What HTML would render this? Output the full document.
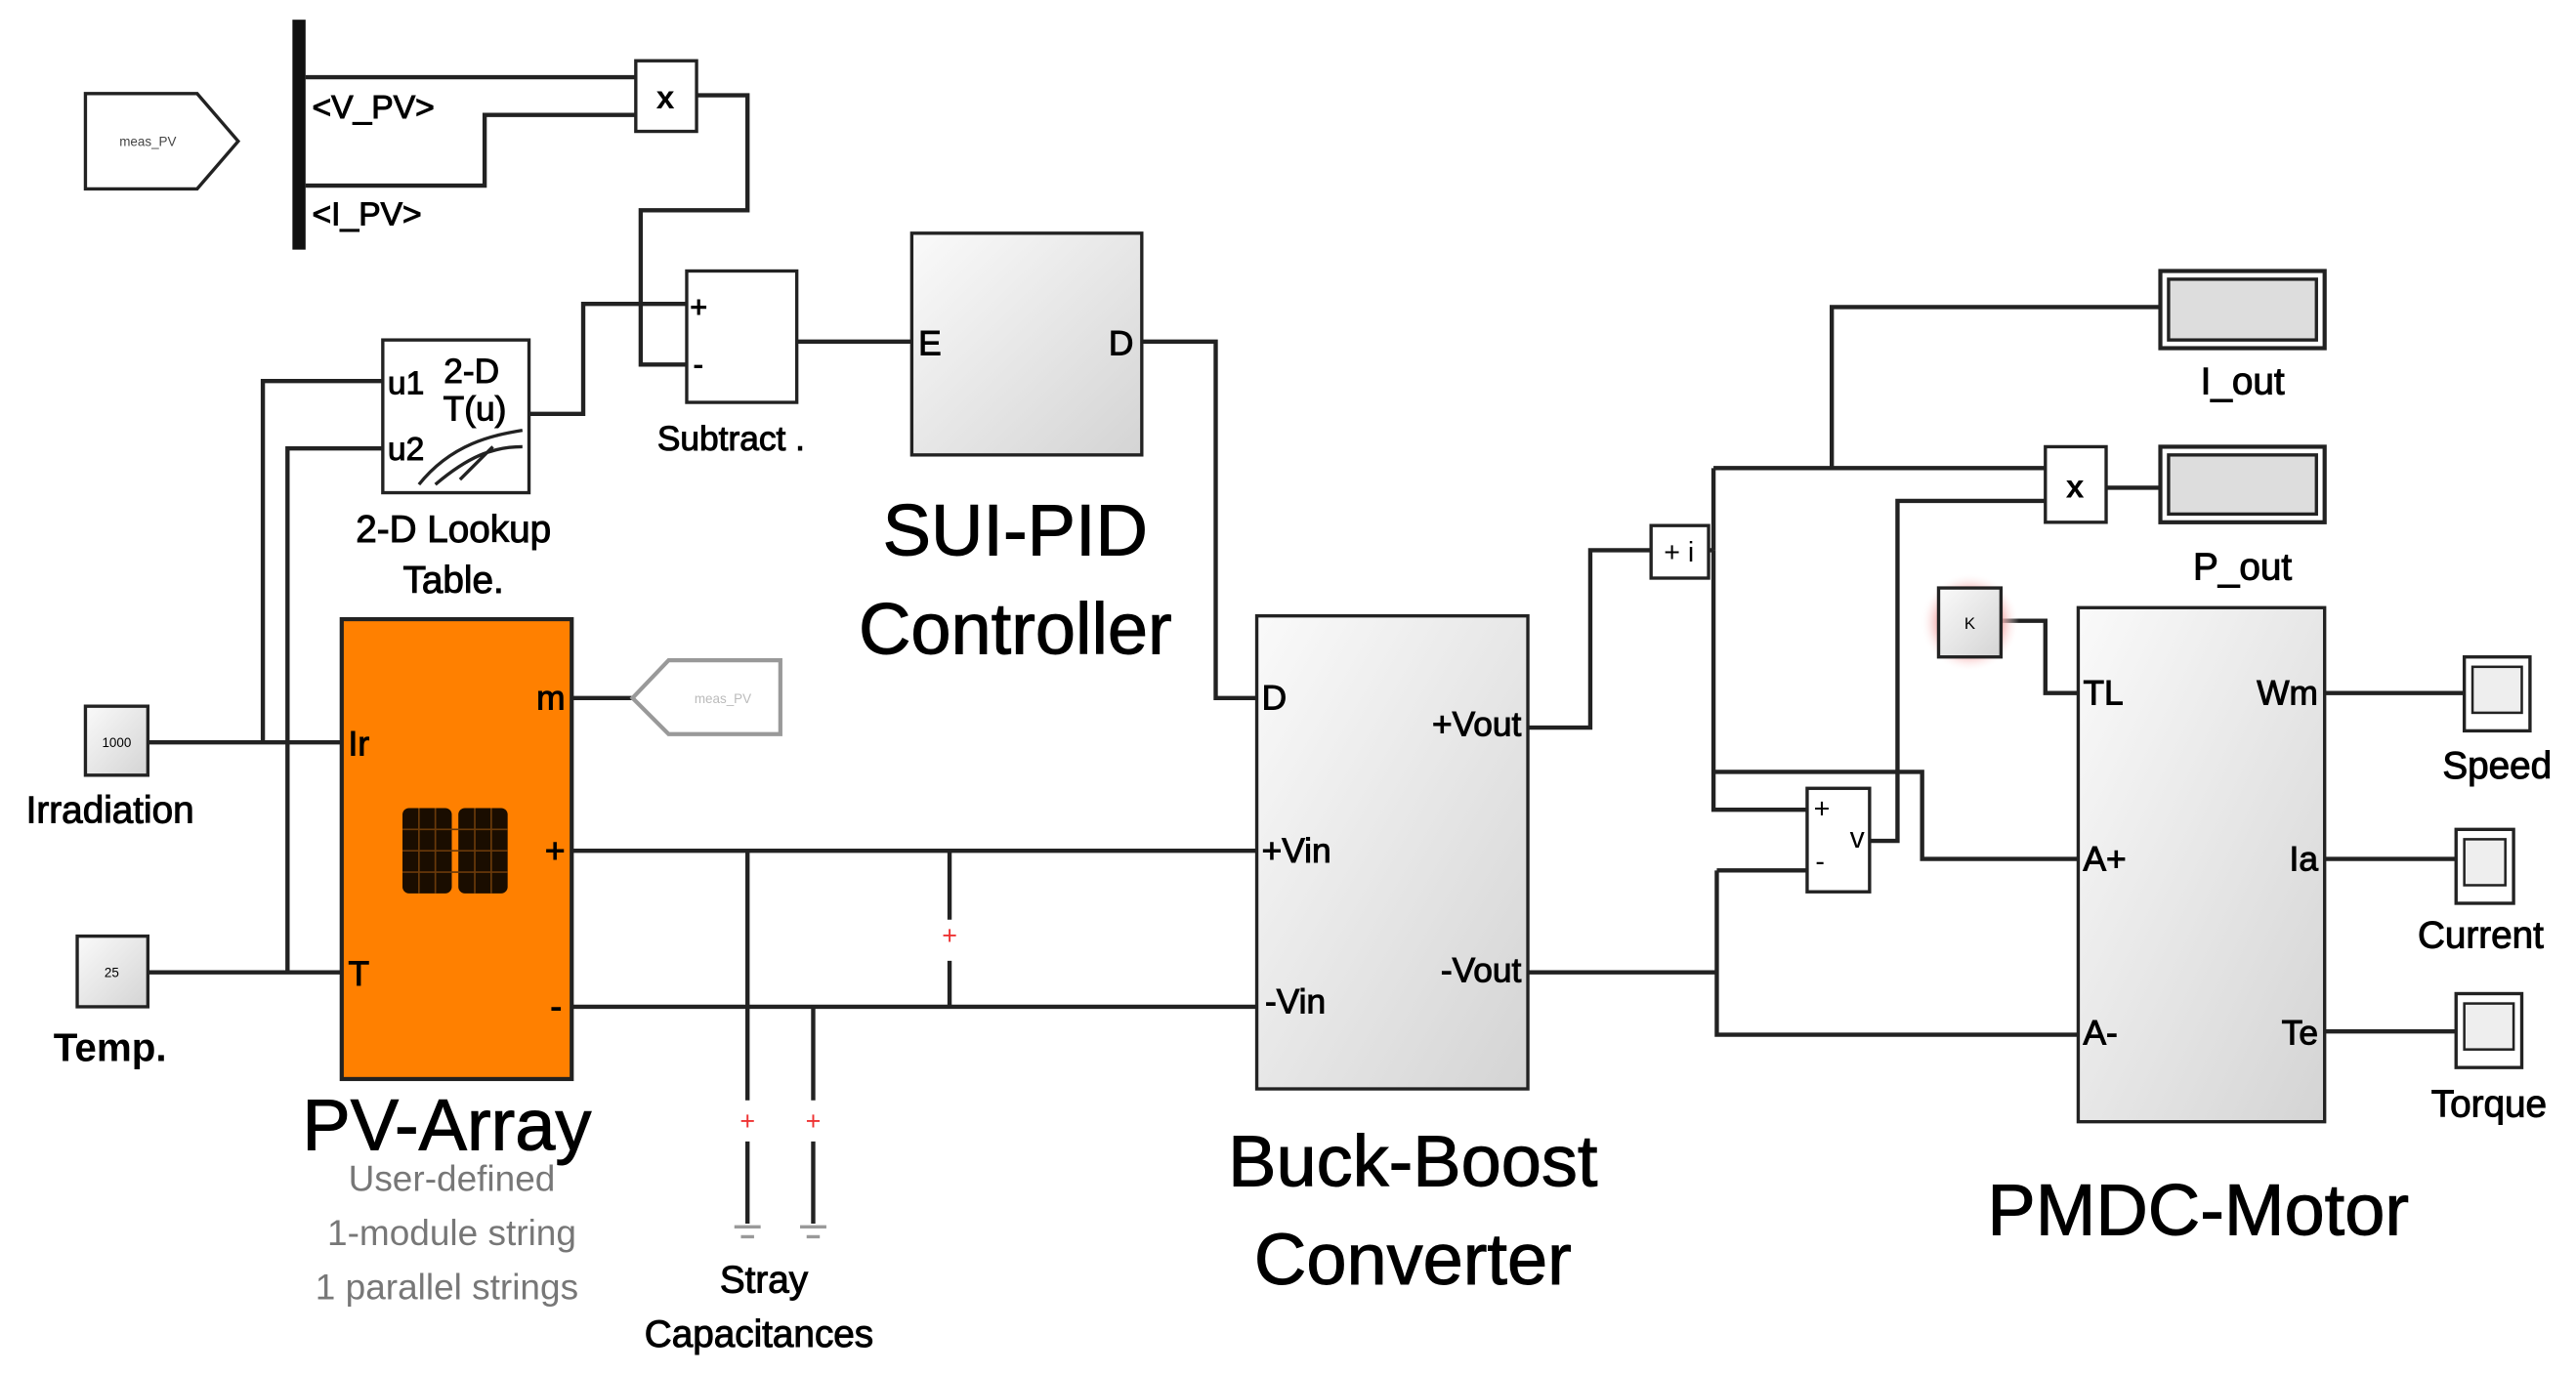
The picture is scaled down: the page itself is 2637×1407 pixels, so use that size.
<!DOCTYPE html>
<html><head><meta charset="utf-8"><style>
html,body{margin:0;padding:0;background:#fff;}
svg{display:block;}
text{font-family:"Liberation Sans Narrow","Liberation Sans",sans-serif;}
.t{stroke:#000;stroke-width:0.6;}
</style></head><body>
<svg width="2637" height="1407" viewBox="0 0 1568 836.6" preserveAspectRatio="none" xmlns="http://www.w3.org/2000/svg">
<defs>
<linearGradient id="g" x1="0" y1="0" x2="1" y2="1"><stop offset="0" stop-color="#fafafa"/><stop offset="1" stop-color="#d4d4d4"/></linearGradient>
<radialGradient id="rg"><stop offset="0.6" stop-color="#f3a0a0"/><stop offset="1" stop-color="#fff" stop-opacity="0"/></radialGradient>
</defs>
<g fill="none" stroke="#222" stroke-width="2.6">
<path d="M186 47H387M186 113H295V70H387"/>
<path d="M424 58H455V128H390V222H418"/>
<path d="M322 252H355V185H418"/>
<path d="M485 208H555"/>
<path d="M695 208H740V425H765"/>
<path d="M90 452H208M160 452V232H233M90 592H208M175 592V273H233"/>
<path d="M348 425H385"/>
<path d="M348 518H765M348 613H765"/>
<path d="M455 518V670M495 613V670M578 518V560M578 585V613M455 695V745M495 695V745"/>
<path d="M930 443H968V335H1005"/>
<path d="M1043 285H1245M1043 335V285M1040 335H1043M1115 285V187H1315"/>
<path d="M1043 335V493H1100M1043 470H1170V523H1265"/>
<path d="M930 592H1045M1045 530V630H1265M1045 530H1100"/>
<path d="M1138 512H1155V305H1245"/>
<path d="M1282 297H1315"/>
<path d="M1218 378H1245V422H1265"/>
<path d="M1415 422H1500M1415 523H1495M1415 628H1495"/>
</g>
<rect x="178" y="12" width="8" height="140" fill="#111"/>
<path d="M52 57H120L145 86L120 115H52Z" fill="#fff" stroke="#222" stroke-width="2"/>
<text x="90" y="89" font-size="8" text-anchor="middle" fill="#444">meas_PV</text>
<g class="t">
<text x="190" y="72" font-size="20">&lt;V_PV&gt;</text>
<text x="190" y="137" font-size="20">&lt;I_PV&gt;</text>
</g>
<rect x="387" y="37" width="37" height="43" fill="#fff" stroke="#222" stroke-width="2"/>
<text x="405" y="66" font-size="20" text-anchor="middle" font-weight="bold">x</text>
<rect x="418" y="165" width="67" height="80" fill="#fff" stroke="#222" stroke-width="2"/>
<g class="t">
<text x="420" y="193" font-size="18">+</text><text x="422" y="228" font-size="18">-</text>
<text x="445" y="274" font-size="21" text-anchor="middle">Subtract .</text>
</g>
<rect x="233" y="207" width="89" height="93" fill="#fff" stroke="#222" stroke-width="2"/>
<g class="t">
<text x="236" y="240" font-size="20">u1</text><text x="236" y="280" font-size="20">u2</text>
<text x="287" y="233" font-size="21" text-anchor="middle">2-D</text><text x="289" y="256" font-size="21" text-anchor="middle">T(u)</text>
</g>
<path d="M255 295C275 270 300 265 318 262M265 295C285 278 300 272 318 272M280 292L300 272" stroke="#222" stroke-width="2" fill="none"/>
<g class="t">
<text x="276" y="330" font-size="23" text-anchor="middle">2-D Lookup</text>
<text x="276" y="361" font-size="23" text-anchor="middle">Table.</text>
</g>
<rect x="555" y="142" width="140" height="135" fill="url(#g)" stroke="#222" stroke-width="2"/>
<g class="t">
<text x="559" y="216" font-size="21">E</text><text x="690" y="216" font-size="21" text-anchor="end">D</text>
<text x="618" y="338" font-size="44" text-anchor="middle">SUI-PID</text>
<text x="618" y="398" font-size="44" text-anchor="middle">Controller</text>
</g>
<rect x="52" y="430" width="38" height="42" fill="url(#g)" stroke="#222" stroke-width="2"/>
<text x="71" y="455" font-size="8" text-anchor="middle">1000</text>
<text class="t" x="67" y="501" font-size="23" text-anchor="middle">Irradiation</text>
<rect x="47" y="570" width="43" height="43" fill="url(#g)" stroke="#222" stroke-width="2"/>
<text x="68" y="595" font-size="8" text-anchor="middle">25</text>
<text x="67" y="646" font-size="24" text-anchor="middle" font-weight="bold">Temp.</text>
<rect x="208" y="377" width="140" height="280" fill="#ff8000" stroke="#222" stroke-width="2.5"/>
<g class="t">
<text x="212" y="460" font-size="21">Ir</text><text x="212" y="600" font-size="21">T</text>
<text x="344" y="432" font-size="21" text-anchor="end">m</text>
<text x="344" y="525" font-size="21" text-anchor="end">+</text><text x="342" y="620" font-size="21" text-anchor="end">-</text>
</g>
<rect x="245" y="492" width="30" height="52" rx="4" fill="#1a0d00"/><rect x="279" y="492" width="30" height="52" rx="4" fill="#1a0d00"/>
<path d="M245 505H309M245 518H309M245 531H309M255 492V544M265 492V544M289 492V544M299 492V544" stroke="#6a3a0a" stroke-width="1"/>
<text class="t" x="272" y="700" font-size="44" text-anchor="middle">PV-Array</text>
<text x="275" y="725" font-size="22" text-anchor="middle" fill="#777">User-defined</text>
<text x="275" y="758" font-size="22" text-anchor="middle" fill="#777">1-module string</text>
<text x="272" y="791" font-size="22" text-anchor="middle" fill="#777">1 parallel strings</text>
<path d="M385 425L407 402H475V447H407Z" fill="#fff" stroke="#999" stroke-width="2.5"/>
<text x="440" y="428" font-size="8" text-anchor="middle" fill="#bbb">meas_PV</text>
<g fill="#e33" font-size="16" text-anchor="middle"><text x="578" y="575">+</text><text x="455" y="688">+</text><text x="495" y="688">+</text></g>
<g stroke="#999" stroke-width="2"><path d="M447 747H463M451 753H459M487 747H503M491 753H499"/></g>
<g class="t">
<text x="465" y="787" font-size="23" text-anchor="middle">Stray</text>
<text x="462" y="820" font-size="23" text-anchor="middle">Capacitances</text>
</g>
<rect x="765" y="375" width="165" height="288" fill="url(#g)" stroke="#222" stroke-width="2"/>
<g class="t">
<text x="768" y="432" font-size="21">D</text><text x="768" y="525" font-size="21">+Vin</text><text x="770" y="617" font-size="21">-Vin</text>
<text x="926" y="448" font-size="21" text-anchor="end">+Vout</text><text x="926" y="598" font-size="21" text-anchor="end">-Vout</text>
<text x="860" y="722" font-size="44" text-anchor="middle">Buck-Boost</text>
<text x="860" y="782" font-size="44" text-anchor="middle">Converter</text>
</g>
<rect x="1005" y="320" width="35" height="32" fill="#fff" stroke="#222" stroke-width="2"/>
<text x="1022" y="342" font-size="17" text-anchor="middle">+ i</text>
<rect x="1100" y="480" width="38" height="63" fill="#fff" stroke="#222" stroke-width="2"/>
<text x="1104" y="498" font-size="17">+</text><text x="1126" y="516" font-size="18">v</text><text x="1105" y="530" font-size="17">-</text>
<rect x="1245" y="272" width="37" height="46" fill="#fff" stroke="#222" stroke-width="2"/>
<text x="1263" y="303" font-size="20" text-anchor="middle" font-weight="bold">x</text>
<rect x="1315" y="165" width="100" height="47" fill="#fff" stroke="#222" stroke-width="2.5"/>
<rect x="1320" y="170" width="90" height="37" fill="#ddd" stroke="#222" stroke-width="2"/>
<text class="t" x="1365" y="240" font-size="23" text-anchor="middle">I_out</text>
<rect x="1315" y="272" width="100" height="46" fill="#fff" stroke="#222" stroke-width="2.5"/>
<rect x="1320" y="277" width="90" height="36" fill="#ddd" stroke="#222" stroke-width="2"/>
<text class="t" x="1365" y="353" font-size="23" text-anchor="middle">P_out</text>
<circle cx="1199" cy="379" r="30" fill="url(#rg)"/>
<rect x="1180" y="358" width="38" height="42" fill="url(#g)" stroke="#222" stroke-width="2"/>
<text x="1199" y="383" font-size="10" text-anchor="middle">K</text>
<rect x="1265" y="370" width="150" height="313" fill="url(#g)" stroke="#222" stroke-width="2"/>
<g class="t">
<text x="1268" y="429" font-size="21">TL</text><text x="1268" y="530" font-size="21">A+</text><text x="1268" y="636" font-size="21">A-</text>
<text x="1411" y="429" font-size="21" text-anchor="end">Wm</text><text x="1411" y="530" font-size="21" text-anchor="end">Ia</text><text x="1411" y="636" font-size="21" text-anchor="end">Te</text>
<text x="1338" y="752" font-size="44" text-anchor="middle">PMDC-Motor</text>
</g>
<g fill="#fff" stroke="#222" stroke-width="2">
<rect x="1500" y="400" width="40" height="45"/><rect x="1495" y="505" width="35" height="45"/><rect x="1495" y="605" width="40" height="45"/>
</g>
<g fill="#eee" stroke="#222" stroke-width="1.5">
<rect x="1505" y="406" width="30" height="28"/><rect x="1500" y="511" width="25" height="28"/><rect x="1500" y="611" width="30" height="28"/>
</g>
<g class="t">
<text x="1520" y="474" font-size="23" text-anchor="middle">Speed</text>
<text x="1510" y="577" font-size="23" text-anchor="middle">Current</text>
<text x="1515" y="680" font-size="23" text-anchor="middle">Torque</text>
</g>
</svg>
</body></html>
